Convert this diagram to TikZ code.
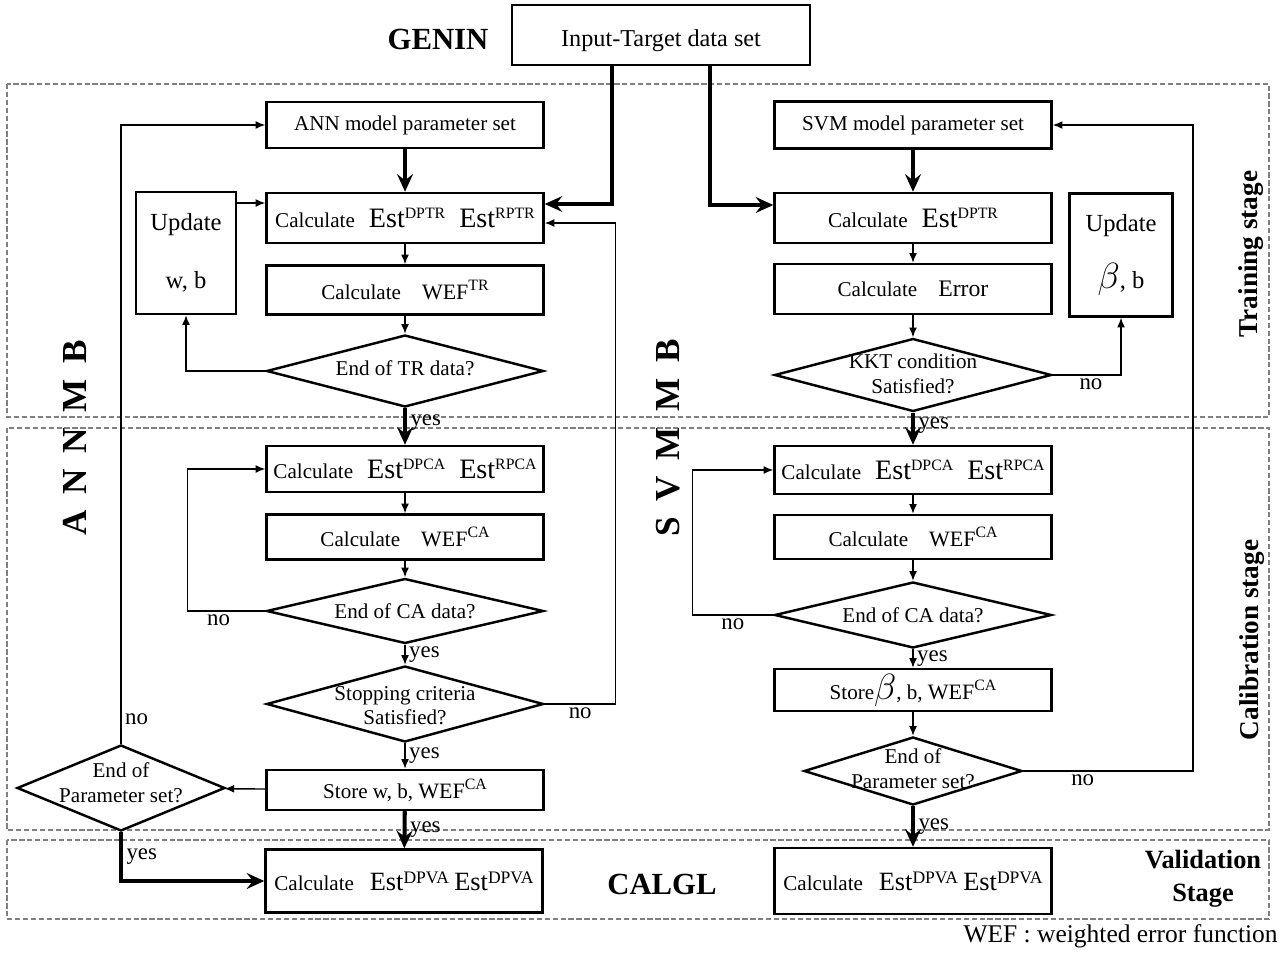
\documentclass[tikz,border=0pt]{standalone}
\usepackage{fontspec}
\setmainfont{Liberation Serif}
\usetikzlibrary{shapes.geometric,arrows.meta}
\tikzset{
  blk/.style={draw,line width=1.4pt,minimum width=5.54cm,inner sep=1pt,font=\fontsize{12}{14}\selectfont},
  dec/.style={draw,diamond,line width=1.4pt,inner sep=0pt,minimum width=5.54cm,font=\fontsize{12}{14}\selectfont},
  thk/.style={line width=2.3pt,-{Stealth[length=10pt,width=9pt,inset=3.5pt]}},
  thn/.style={line width=0.8pt,-{Latex[length=5.5pt,width=4.5pt]}},
  stage/.style={draw=gray,dash pattern=on 3pt off 1.5pt,line width=0.7pt},
  lbl/.style={font=\fontsize{13}{15}\selectfont,inner sep=2pt},
  big/.style={font=\fontsize{17.5}{20}\selectfont\bfseries},
  side/.style={rotate=90,font=\fontsize{15.5}{18}\selectfont\bfseries}
}
\newcommand\est{{\fontsize{16}{18}\selectfont Est}}
\newcommand\estv{{\fontsize{15}{17}\selectfont Est}}
\newcommand\wef{{\fontsize{12.5}{14}\selectfont WEF}}
\newcommand\up[1]{\raisebox{5pt}{\fontsize{9}{10}\selectfont #1}}
\newcommand\upv[1]{\raisebox{4pt}{\fontsize{10}{11}\selectfont #1}}
\newcommand\dtxt[2][-6pt]{\raisebox{#1}{\makebox[0pt]{\smash{\begin{tabular}{@{}c@{}}#2\end{tabular}}}}}
\begin{document}
\begin{tikzpicture}[x=0.02cm,y=-0.02cm]
  \useasboundingbox (0,0) rectangle (1284,953);
  % stages
  \draw[stage] (7,84) rectangle (1269,417);
  \draw[stage] (7,428) rectangle (1269,830);
  \draw[stage] (7,840) rectangle (1269,919);
  \node[big] (genin) at (438,39) {GENIN};
  \node[draw,line width=1.4pt,minimum width=5.96cm,minimum height=1.2cm,text height=16pt,text depth=3pt,font=\fontsize{13.8}{16}\selectfont] (inp) at (661,35) {Input-Target data set};
  \node[big] (calgl) at (662,884) {CALGL};
  \node[font=\fontsize{15}{19}\selectfont\bfseries,align=center] (valst) at (1203,879) {Validation\\Stage};
  \node[side] (trst) at (1251,254) {Training stage};
  \node[side] (cast) at (1252,640) {Calibration stage};
  \node[side,font=\fontsize{20}{22}\selectfont\bfseries] (annmb) at (75,438) {A\hspace{9pt}N\hspace{9pt}N\hspace{9pt}M\hspace{9pt}B};
  \node[side,font=\fontsize{20}{22}\selectfont\bfseries] (svmmb) at (668,438) {S\hspace{9pt}V\hspace{9pt}M\hspace{9pt}M\hspace{9pt}B};
  \node[anchor=east,font=\fontsize{14.5}{16}\selectfont,inner sep=0pt] (wefnote) at (1278,936) {WEF : weighted error function};

  % ANN side
  \node[blk,minimum height=0.92cm] (annpar) at (405,125) {ANN model parameter set};
  \node[blk,minimum height=1cm] (annest) at (405,218) {Calculate\hspace{8pt}\est\up{DPTR}\hspace{8pt}\est\up{RPTR}};
  \node[blk,minimum height=0.98cm] (annwef) at (405,290) {Calculate\hspace{12pt}\wef\up{TR}};
  \node[dec,minimum height=1.44cm] (anntr) at (405,371) {\dtxt[-5pt]{End of TR data?}};
  \node[blk,minimum width=2cm,minimum height=2.44cm,font=\fontsize{14}{17}\selectfont,align=center] (annupd) at (186,253) {Update\\[16pt]w, b};
  \node[blk,minimum height=0.92cm] (annca) at (405,469) {Calculate\hspace{8pt}\est\up{DPCA}\hspace{8pt}\est\up{RPCA}};
  \node[blk,minimum height=0.9cm] (annwefca) at (405,537) {Calculate\hspace{12pt}\wef\up{CA}};
  \node[dec,minimum height=1.3cm] (annendca) at (405,611) {\dtxt[-8.5pt]{End of CA data?}};
  \node[dec,minimum height=1.52cm] (annstop) at (405,704) {\dtxt[-10pt]{Stopping criteria\\Satisfied?}};
  \node[blk,minimum height=0.8cm] (annstore) at (405,790) {Store w, b, \wef\up{CA}};
  \node[dec,minimum width=4.16cm,minimum height=1.72cm] (annpend) at (121,788) {\dtxt[-3pt]{End of\\Parameter set?}};
  \node[blk,minimum height=1.26cm] (annval) at (404,881) {Calculate\hspace{9pt}\estv\upv{DPVA}\hspace{3pt}\estv\upv{DPVA}};

  % SVM side
  \node[blk,minimum height=0.94cm] (svmpar) at (913,125) {SVM model parameter set};
  \node[blk,minimum height=1cm] (svmest) at (913,218) {Calculate\hspace{8pt}\est\up{DPTR}};
  \node[blk,minimum height=1cm] (svmerr) at (913,289) {Calculate\hspace{12pt}{\fontsize{13.5}{15}\selectfont Error}};
  \node[dec,minimum height=1.46cm] (svmkkt) at (913,375) {\dtxt[-7pt]{KKT condition\\Satisfied?}};
  \node[blk,minimum width=2.06cm,minimum height=2.46cm,font=\fontsize{14}{17}\selectfont,align=center] (svmupd) at (1121,255) {Update\\[14pt]{\fontsize{22}{24}\selectfont$\beta$}, b};
  \node[blk,minimum height=0.96cm] (svmca) at (913,470) {Calculate\hspace{8pt}\est\up{DPCA}\hspace{8pt}\est\up{RPCA}};
  \node[blk,minimum height=0.88cm] (svmwefca) at (913,537) {Calculate\hspace{12pt}\wef\up{CA}};
  \node[dec,minimum height=1.32cm] (svmendca) at (913,615) {\dtxt[-9pt]{End of CA data?}};
  \node[blk,minimum height=0.84cm] (svmstore) at (913,690) {Store{\fontsize{20}{22}\selectfont$\beta$}, b, \wef\up{CA}};
  \node[dec,minimum width=4.36cm,minimum height=1.36cm] (svmpend) at (913,771) {\dtxt[-6pt]{End of\\Parameter set?}};
  \node[blk,minimum height=1.32cm] (svmval) at (913,881) {Calculate\hspace{9pt}\estv\upv{DPVA}\hspace{3pt}\estv\upv{DPVA}};

  % input
  \draw[thk] ([xshift=-0.98cm]inp.south) |- ([yshift=0.28cm]annest.east);
  \draw[thk] ([xshift=0.98cm]inp.south) |- ([yshift=0.26cm]svmest.west);

  % ANN flow
  \draw[thk] (annpar) -- (annest);
  \draw[thn] (annest) -- (annwef);
  \draw[thn] (annwef) -- (anntr);
  \draw[thn] (anntr.west) -| (annupd.south);
  \coordinate (uw) at ([yshift=1cm]annupd.east);
  \draw[thn] (uw) -- (uw -| annest.west);
  \draw[thk] (anntr) -- (annca) node[lbl,right,pos=0.4] (y1) {yes};
  \draw[thn] (annca) -- (annwefca);
  \draw[thn] (annwefca) -- (annendca);
  \draw[thn] (annendca.west) -- ++(-1.56cm,0) node[lbl,below,pos=0.6] (n1) {no} |- (annca.west);
  \draw[thn] (annendca) -- (annstop) node[lbl,right,midway] (y2) {yes};
  \draw[thn] (annstop.east) -- ++(1.42cm,0) node[lbl,below,pos=0.5] (n2) {no} |- ([yshift=-0.1cm]annest.east);
  \draw[thn] (annstop) -- (annstore) node[lbl,right,midway] (y3) {yes};
  \draw[thn] (annstore) -- (annpend);
  \draw[thn] (annpend.north) |- (annpar.west) node[lbl,right,pos=0.02] (n3) {no};
  \draw[thk] (annpend.south) |- (annval.west) node[lbl,right,pos=0.25] (y4) {yes};
  \draw[thk] (annstore) -- (annval) node[lbl,right,midway] (y5) {yes};

  % SVM flow
  \draw[thk] (svmpar) -- (svmest);
  \draw[thn] (svmest) -- (svmerr);
  \draw[thn] (svmerr) -- (svmkkt);
  \draw[thn] (svmkkt.east) -| (svmupd.south) node[lbl,below,pos=0.28] (n4) {no};
  \draw[thk] (svmkkt) -- (svmca) node[lbl,right,pos=0.4] (y6) {yes};
  \draw[thn] (svmca) -- (svmwefca);
  \draw[thn] (svmwefca) -- (svmendca);
  \draw[thn] (svmendca.west) -- ++(-1.62cm,0) node[lbl,below,pos=0.5] (n5) {no} |- (svmca.west);
  \draw[thn] (svmendca) -- (svmstore) node[lbl,right,midway] (y7) {yes};
  \draw[thn] (svmstore) -- (svmpend);
  \draw[thn] (svmpend.east) -- ++(3.4cm,0) node[lbl,below,pos=0.35] (n6) {no} |- (svmpar.east);
  \draw[thk] (svmpend) -- (svmval) node[lbl,right,midway] (y8) {yes};
\end{tikzpicture}
\end{document}
